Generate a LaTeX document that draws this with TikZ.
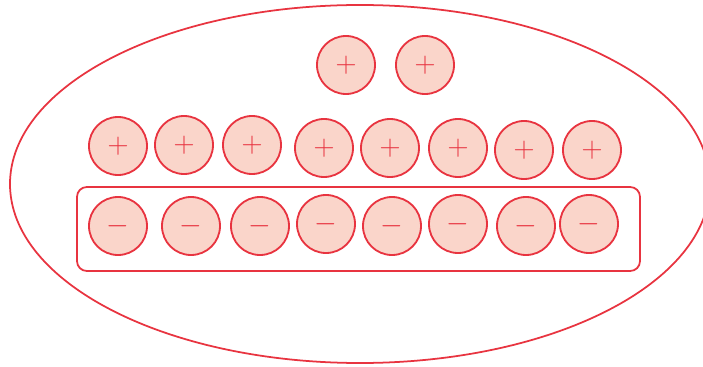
\documentclass[tikz,border=0pt]{standalone}
\usetikzlibrary{positioning}
\definecolor{chgred}{RGB}{232,52,64}
\definecolor{chgfill}{RGB}{250,213,202}
\tikzset{
  % charged particles
  charge/.style={circle, draw=chgred, fill=chgfill, line width=1.3pt,
    minimum size=1.45cm, inner sep=0pt, text=chgred,
    font=\fontsize{20}{22}\selectfont},
  % outlines
  outline/.style={draw=chgred, line width=1.25pt},
}

\begin{document}
\begin{tikzpicture}[x=0.025cm, y=-0.025cm]
    \useasboundingbox (0,0) rectangle (703,367);
    % outer region
    \draw[outline] (360,184) ellipse [x radius=350, y radius=179];
    % frame round the negative row
    \draw[outline, rounded corners=7pt] (77,187) rectangle (640,271);
    % free positive charges
    \node[charge] (top1) at (346,65) {$+$};
    \node[charge] (top2) at (425,65) {$+$};
    % positive row
    \foreach \x/\y [count=\i] in {118/146, 184/145, 252/145, 324/148,
                                  390/148, 458/148, 524/150, 592/150}
      \node[charge] (pos\i) at (\x,\y) {$+$};
    % negative row
    \foreach \x/\y [count=\i] in {118/226, 191/226, 260/226, 326/224,
                                  392/226, 458/224, 526/226, 589/224}
      \node[charge] (neg\i) at (\x,\y) {$-$};
\end{tikzpicture}
\end{document}
